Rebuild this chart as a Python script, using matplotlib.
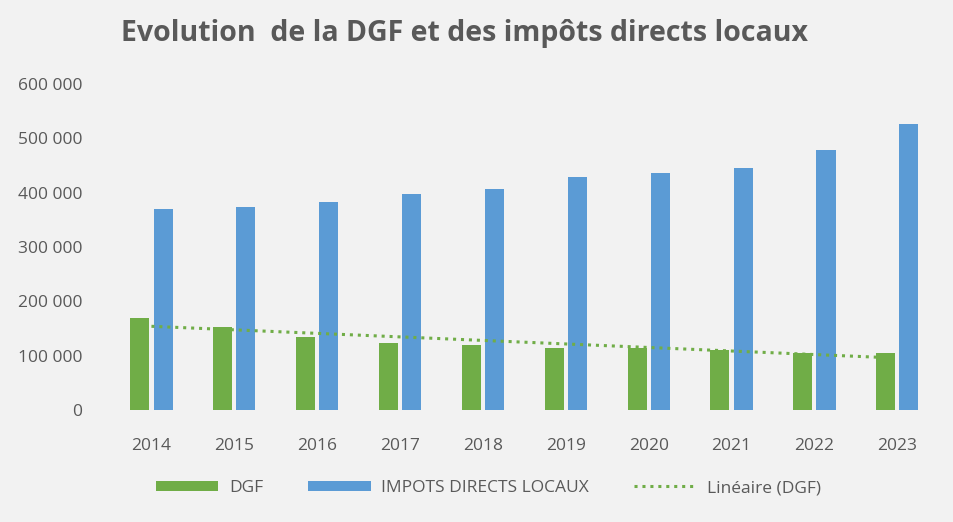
import matplotlib
matplotlib.use('Agg')
import matplotlib.pyplot as plt
import numpy as np

# data
years = ['2014', '2015', '2016', '2017', '2018', '2019', '2020', '2021', '2022', '2023']
dgf = [170000, 153000, 134000, 123000, 119000, 115000, 114000, 110000, 105000, 105000]
impots = [370000, 374000, 383000, 397000, 407000, 428000, 437000, 445000, 479000, 526000]
y_ticks = [0, 100000, 200000, 300000, 400000, 500000, 600000]

green = '#70ad47'
blue = '#5b9bd5'
grey = '#595959'
bg = '#f2f2f2'

plt.rcParams['font.family'] = ['Open Sans', 'DejaVu Sans']

fig = plt.figure(figsize=(9.54, 5.22), dpi=100, facecolor=bg)
ax = fig.add_axes([0.1153, 0.2146, 0.8687, 0.6244], facecolor=bg)

x = np.arange(len(years))
w = 0.23
b1 = ax.bar(x - 0.14, dgf, width=w, color=green, label='DGF')
b2 = ax.bar(x + 0.14, impots, width=w, color=blue, label='IMPOTS DIRECTS LOCAUX')

# linear trend of DGF
a, b = np.polyfit(x, dgf, 1)
ln, = ax.plot(x, a * x + b, linestyle=(0, (1, 1.6)), color=green, linewidth=2.2,
              label='Linéaire (DGF)')

ax.set_xlim(-0.5, len(years) - 0.5)
ax.set_ylim(0, 600000)
ax.set_xticks(x)
ax.set_xticklabels(years)
ax.set_yticks(y_ticks)
ax.set_yticklabels([f'{v:,}'.replace(',', ' ') for v in y_ticks])
ax.tick_params(length=0, labelsize=12.5, colors=grey)
ax.tick_params(axis='y', pad=20)
ax.tick_params(axis='x', pad=20)
for s in ax.spines.values():
    s.set_visible(False)

fig.text(0.487, 0.935, 'Evolution  de la DGF et des impôts directs locaux',
         ha='center', va='center', fontsize=20.5, fontweight='bold', color=grey)

fig.legend([b1, b2, ln], ['DGF', 'IMPOTS DIRECTS LOCAUX', 'Linéaire (DGF)'],
           loc='center', bbox_to_anchor=(0.512, 0.065), ncol=3, frameon=False,
           fontsize=12.5, labelcolor=grey, handlelength=3.6, handleheight=0.55,
           handletextpad=0.6, columnspacing=2.6)

fig.savefig('out.png', dpi=100, facecolor=bg)
